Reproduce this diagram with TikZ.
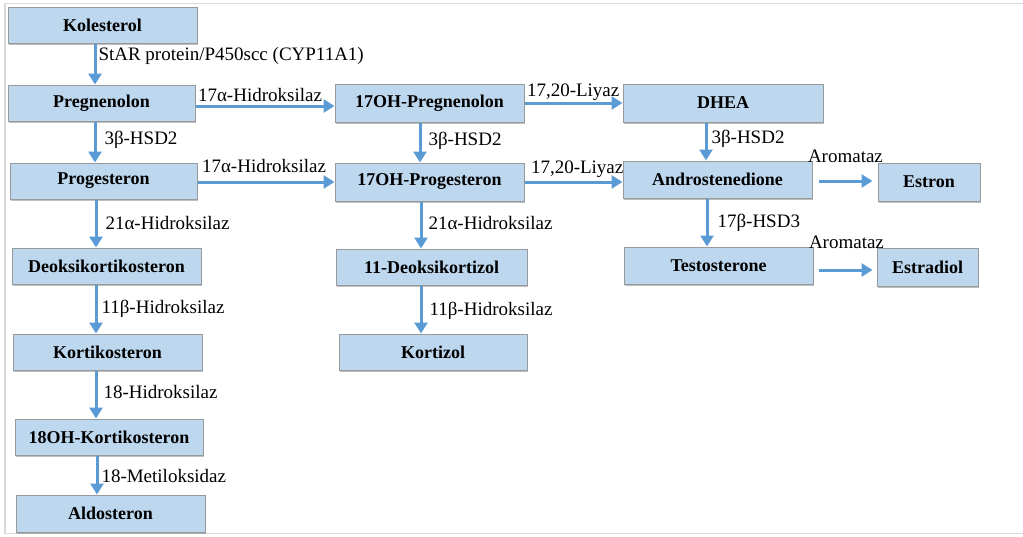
\documentclass[tikz,border=0pt]{standalone}
\usepackage{fontspec}
\setmainfont{Liberation Serif}
\usetikzlibrary{arrows.meta, shadows}

\definecolor{boxblue}{RGB}{189,215,238}
\definecolor{arrowblue}{RGB}{91,155,213}
\definecolor{framegray}{RGB}{217,217,217}

\begin{document}
\begin{tikzpicture}[x=1pt, y=-1pt]
\tikzstyle{main}=[rectangle, fill=boxblue, draw=black!40, line width=1pt, minimum width=189pt, minimum height=36pt, inner sep=0pt, font=\fontsize{18}{20}\selectfont\bfseries, drop shadow={shadow xshift=1.2pt, shadow yshift=-1.8pt, opacity=0.5}]
\tikzstyle{connect}=[-{Triangle[length=11pt, width=13pt]}, line width=3pt, draw=arrowblue]
\tikzstyle{enzyme}=[font=\fontsize{19}{21}\selectfont, inner sep=1pt]
\useasboundingbox (0,0) rectangle (1023,536);
\draw[framegray, line width=1.5pt] (1023,3.5) -- (5,3.5) -- (5,533.5) -- (1023,533.5);
    % left column
    \node[main] (kol) at (102.5,25) {Kolesterol};
    \node[main, minimum width=187pt] (preg) at (101.5,103) {Pregnenolon};
    \node[main, minimum width=187pt] (prog) at (103.5,181) {Progesteron};
    \node[main] (deoksi) at (106.5,266) {Deoksikortikosteron};
    \node[main] (korti) at (107.5,352) {Kortikosteron};
    \node[main, minimum width=188pt] (ohkorti) at (109,437) {18OH-Kortikosteron};
    \node[main, minimum height=37pt] (aldo) at (110.5,513.5) {Aldosteron};
    % middle column
    \node[main, minimum height=38pt] (ohpreg) at (429.5,103) {17OH-Pregnenolon};
    \node[main, minimum height=38pt] (ohprog) at (429.5,182) {17OH-Progesteron};
    \node[main, minimum width=191pt] (deokor) at (431.5,267) {11-Deoksikortizol};
    \node[main, minimum width=188pt] (kortizol) at (433,352) {Kortizol};
    % right columns
    \node[main, minimum width=200pt, minimum height=38pt] (dhea) at (723,103) {DHEA};
    \node[main, minimum height=37pt] (andro) at (717.5,179.5) {Androstenedione};
    \node[main, minimum height=37pt] (testo) at (718.5,265.5) {Testosterone};
    \node[main, minimum width=102pt, minimum height=38pt] (estron) at (929,182) {Estron};
    \node[main, minimum width=101pt, minimum height=38pt] (estradiol) at (927.5,267) {Estradiol};

    % vertical steps
    \draw[connect] ([xshift=-7.5pt]kol.south) -- ([xshift=-7.5pt]kol.south |- preg.north)
        node[enzyme, right=1pt, pos=.31] {StAR protein/P450scc (CYP11A1)};
    \draw[connect] ([xshift=-6.5pt]preg.south) -- ([xshift=-6.5pt]preg.south |- prog.north)
        node[enzyme, right=7pt, pos=.45] {3β-HSD2};
    \draw[connect] ([xshift=-7.5pt]prog.south) -- ([xshift=-7.5pt]prog.south |- deoksi.north)
        node[enzyme, right=7pt, pos=.49] {21α-Hidroksilaz};
    \draw[connect] ([xshift=-10.5pt]deoksi.south) -- ([xshift=-10.5pt]deoksi.south |- korti.north)
        node[enzyme, right=3pt, pos=.5] {11β-Hidroksilaz};
    \draw[connect] ([xshift=-11.5pt]korti.south) -- ([xshift=-11.5pt]korti.south |- ohkorti.north)
        node[enzyme, right=5pt, pos=.45] {18-Hidroksilaz};
    \draw[connect] ([xshift=-12pt]ohkorti.south) -- ([xshift=-12pt]ohkorti.south |- aldo.north)
        node[enzyme, right=2pt, pos=.52] {18-Metiloksidaz};
    \draw[connect] ([xshift=-9.5pt]ohpreg.south) -- ([xshift=-9.5pt]ohpreg.south |- ohprog.north)
        node[enzyme, right=6pt, pos=.46] {3β-HSD2};
    \draw[connect] ([xshift=-8.5pt]ohprog.south) -- ([xshift=-8.5pt]ohprog.south |- deokor.north)
        node[enzyme, right=5pt, pos=.46] {21α-Hidroksilaz};
    \draw[connect] ([xshift=-10.5pt]deokor.south) -- ([xshift=-10.5pt]deokor.south |- kortizol.north)
        node[enzyme, right=6pt, pos=.53] {11β-Hidroksilaz};
    \draw[connect] ([xshift=-17pt]dhea.south) -- ([xshift=-17pt]dhea.south |- andro.north)
        node[enzyme, right=3pt, pos=.44] {3β-HSD2};
    \draw[connect] ([xshift=-10.5pt]andro.south) -- ([xshift=-10.5pt]andro.south |- testo.north)
        node[enzyme, right=8pt, pos=.5] {17β-HSD3};

    % horizontal steps
    \draw[connect] ([yshift=-3pt]preg.east) -- ([yshift=-3pt]preg.east -| ohpreg.west)
        node[enzyme, anchor=base west, pos=0, yshift=5pt] {17α-Hidroksilaz};
    \draw[connect] ([yshift=-1pt]prog.east) -- ([yshift=-1pt]prog.east -| ohprog.west)
        node[enzyme, anchor=base west, pos=0, xshift=2pt, yshift=10pt] {17α-Hidroksilaz};
    \draw[connect] (ohpreg.east) -- (ohpreg.east -| dhea.west)
        node[enzyme, anchor=base west, pos=0, yshift=7pt] {17,20-Liyaz};
    \draw[connect] (ohprog.east) -- (ohprog.east -| andro.west)
        node[enzyme, anchor=base west, pos=0, xshift=4pt, yshift=9pt] {17,20-Liyaz};
    \draw[connect] ([xshift=6pt, yshift=-1.5pt]andro.east) -- ([xshift=-5pt, yshift=-1.5pt]andro.east -| estron.west)
        node[enzyme, anchor=base west, pos=0, xshift=-13pt, yshift=19pt] {Aromataz};
    \draw[connect] ([xshift=5pt, yshift=-4.5pt]testo.east) -- ([xshift=-4pt, yshift=-4.5pt]testo.east -| estradiol.west)
        node[enzyme, anchor=base west, pos=0, xshift=-12pt, yshift=22pt] {Aromataz};
\end{tikzpicture}
\end{document}
